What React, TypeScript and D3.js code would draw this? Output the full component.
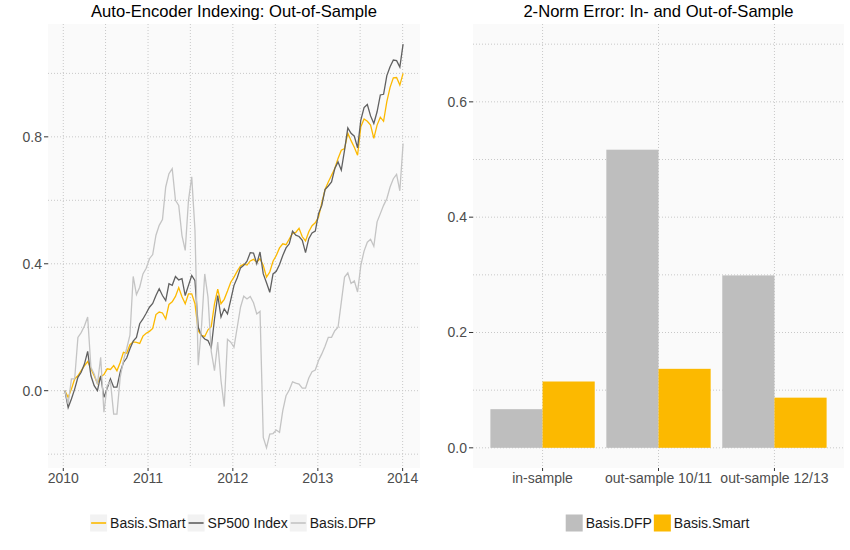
import * as d3 from 'd3'
import React from 'react'

// fortnightly index levels
const smart = [
    0.0, -0.021, 0.005, 0.037, 0.047, 0.063, 0.078, 0.092, 0.069, 0.047,
    0.023, 0.044, 0.051, 0.069, 0.067, 0.079, 0.063, 0.089, 0.121, 0.118,
    0.145, 0.154, 0.152, 0.149, 0.172, 0.181, 0.187, 0.196, 0.24, 0.248,
    0.245, 0.226, 0.272, 0.28, 0.297, 0.325, 0.296, 0.274, 0.305, 0.305,
    0.274, 0.189, 0.174, 0.171, 0.192, 0.202, 0.274, 0.32, 0.274, 0.288,
    0.314, 0.342, 0.358, 0.377, 0.393, 0.399, 0.396, 0.409, 0.414, 0.405,
    0.416, 0.395, 0.358, 0.374, 0.408, 0.426, 0.45, 0.463, 0.46, 0.478,
    0.496, 0.499, 0.512, 0.485, 0.472, 0.501, 0.52, 0.529, 0.547, 0.592,
    0.634, 0.658, 0.679, 0.7, 0.732, 0.758, 0.763, 0.812, 0.788, 0.767,
    0.742, 0.832, 0.856, 0.849, 0.837, 0.795, 0.837, 0.862, 0.849, 0.911,
    0.956, 0.986, 0.987, 0.963, 1.0,
]
const sp500 = [
    0.0, -0.053, -0.026, 0.005, 0.042, 0.058, 0.084, 0.124, 0.047, 0.016,
    0.0, 0.047, -0.021, 0.008, 0.037, 0.011, 0.011, 0.058, 0.089, 0.103,
    0.132, 0.156, 0.168, 0.211, 0.226, 0.244, 0.263, 0.275, 0.3, 0.321,
    0.3, 0.284, 0.337, 0.332, 0.36, 0.349, 0.353, 0.3, 0.332, 0.363,
    0.347, 0.2, 0.174, 0.163, 0.158, 0.135, 0.226, 0.3, 0.232, 0.258,
    0.242, 0.286, 0.332, 0.356, 0.387, 0.395, 0.408, 0.435, 0.434, 0.4,
    0.437, 0.368, 0.34, 0.31, 0.368, 0.376, 0.398, 0.426, 0.45, 0.463,
    0.503, 0.49, 0.486, 0.474, 0.435, 0.479, 0.497, 0.503, 0.558, 0.584,
    0.634, 0.645, 0.658, 0.7, 0.721, 0.695, 0.758, 0.828, 0.811, 0.802,
    0.765, 0.853, 0.892, 0.902, 0.866, 0.842, 0.879, 0.932, 0.934, 0.993,
    1.021, 1.042, 1.04, 1.02, 1.092,
]
const dfp = [
    0.0, -0.042, 0.037, 0.037, 0.168, 0.183, 0.204, 0.232, 0.074, 0.053,
    0.021, 0.105, -0.068, 0.016, 0.029, -0.074, -0.074, 0.042, 0.095, 0.133,
    0.175, 0.36, 0.303, 0.326, 0.368, 0.386, 0.416, 0.429, 0.49, 0.521,
    0.539, 0.642, 0.684, 0.7, 0.6, 0.584, 0.489, 0.442, 0.6, 0.674,
    0.505, 0.08, 0.2, 0.368, 0.295, 0.124, 0.063, 0.153, 0.032, -0.05,
    0.162, 0.153, 0.137, 0.2, 0.263, 0.298, 0.289, 0.297, 0.277, 0.242,
    0.25, -0.147, -0.18, -0.137, -0.135, -0.124, -0.131, -0.063, -0.016, 0.002,
    0.028, 0.024, 0.021, 0.008, 0.008, 0.04, 0.06, 0.065, 0.095, 0.116,
    0.14, 0.168, 0.168, 0.189, 0.2, 0.279, 0.358, 0.371, 0.338, 0.346,
    0.311, 0.395, 0.44, 0.468, 0.477, 0.455, 0.532, 0.558, 0.584, 0.605,
    0.642, 0.668, 0.682, 0.63, 0.779,
]
const startDate = new Date(2010, 0, 8)
const dates = smart.map((_, i) => d3.timeDay.offset(startDate, 14 * i))

const errCategories = ['in-sample', 'out-sample 10/11', 'out-sample 12/13']
const errDFP = [0.067, 0.517, 0.299]
const errSmart = [0.115, 0.137, 0.087]

const YELLOW = '#FCB900'
const DARK = '#606060'
const LIGHT = '#C4C4C4'
const BAR_GREY = '#BEBEBE'
const GRID = '#C8C8C8'
const TICK_TEXT = '#4D4D4D'
const FONT = '"Liberation Sans", Arial, Helvetica, sans-serif'

const lineSeries = [
    { name: 'Basis.Smart', values: smart, color: YELLOW },
    { name: 'SP500 Index', values: sp500, color: DARK },
    { name: 'Basis.DFP', values: dfp, color: LIGHT },
]

const top = 24
const bottom = 468
const left1 = 48
const right1 = 420
const left2 = 473
const right2 = 844

function expand(lo: number, hi: number, f = 0.05): [number, number] {
    const d = (hi - lo) * f
    return [lo - d, hi + d]
}

let measureCtx: CanvasRenderingContext2D | null = null
function textWidth(s: string, size: number) {
    if (!measureCtx) measureCtx = document.createElement('canvas').getContext('2d')
    if (!measureCtx) return s.length * size * 0.55
    measureCtx.font = `${size}px ${FONT}`
    return measureCtx.measureText(s).width
}

const Legend = (props: { cx: number; y: number; items: { name: string; color: string }[]; kind: 'line' | 'box' }) => {
    const key = 17
    const size = 14
    const widths = props.items.map((d) => key + 3 + textWidth(d.name, size) + 2)
    const total = d3.sum(widths)
    let x = props.cx - total / 2
    return (
        <g>
            {props.items.map((d, i) => {
                const x0 = x
                x += widths[i]
                return (
                    <g key={d.name} transform={`translate(${x0},${props.y})`}>
                        {props.kind === 'line' ? (
                            <>
                                <rect width={key} height={key} y={-key / 2} fill="#F2F2F2" />
                                <line x1={1} x2={key - 1} y1={0} y2={0} stroke={d.color} strokeWidth={1.6} />
                            </>
                        ) : (
                            <rect width={key} height={key} y={-key / 2} fill={d.color} />
                        )}
                        <text x={key + 3} y={5} fontSize={size} fill="#1A1A1A">
                            {d.name}
                        </text>
                    </g>
                )
            })}
        </g>
    )
}

const LinePanel = () => {
    const x = d3
        .scaleTime()
        .domain(expand(+dates[0], +dates[dates.length - 1]).map((t) => new Date(t)))
        .range([left1, right1])
    const all = [...smart, ...sp500, ...dfp]
    const y = d3
        .scaleLinear()
        .domain(expand(d3.min(all)!, d3.max(all)!))
        .range([bottom, top])
    const years = [2010, 2011, 2012, 2013, 2014].map((yr) => new Date(yr, 0, 1))
    const midYears = [2010, 2011, 2012, 2013].map((yr) => new Date(yr, 6, 2))
    const yMajor = [0, 0.4, 0.8]
    const yMinor = [-0.2, 0.2, 0.6, 1.0]
    const line = d3
        .line<number>()
        .x((_, i) => x(dates[i]))
        .y((v) => y(v))

    return (
        <g>
            <rect x={left1} y={top} width={right1 - left1} height={bottom - top} fill="#FAFAFA" />
            {[...yMinor, ...yMajor].map((v) => (
                <line key={`h${v}`} x1={left1} x2={right1} y1={y(v)} y2={y(v)} stroke={GRID} strokeDasharray="1,2" />
            ))}
            {[...midYears, ...years].map((d) => (
                <line key={`v${+d}`} x1={x(d)} x2={x(d)} y1={top} y2={bottom} stroke={GRID} strokeDasharray="1,2" />
            ))}
            {lineSeries.map((s) => (
                <path key={s.name} d={line(s.values)!} fill="none" stroke={s.color} strokeWidth={1.3} />
            ))}
            {yMajor.map((v) => (
                <g key={`yt${v}`}>
                    <line x1={left1 - 4} x2={left1} y1={y(v)} y2={y(v)} stroke="#333" />
                    <text x={left1 - 6} y={y(v) + 5} textAnchor="end" fontSize={14} fill={TICK_TEXT}>
                        {v.toFixed(1)}
                    </text>
                </g>
            ))}
            {years.map((d) => (
                <g key={`xt${+d}`}>
                    <line x1={x(d)} x2={x(d)} y1={bottom} y2={bottom + 3} stroke="#333" />
                    <text x={x(d)} y={bottom + 15} textAnchor="middle" fontSize={14} fill={TICK_TEXT}>
                        {d.getFullYear()}
                    </text>
                </g>
            ))}
            <text x={(left1 + right1) / 2} y={17} textAnchor="middle" fontSize={16.6} fill="#000">
                Auto-Encoder Indexing: Out-of-Sample
            </text>
            <Legend cx={(left1 + right1) / 2} y={523} items={lineSeries} kind="line" />
        </g>
    )
}

const BarPanel = () => {
    const x = d3.scalePoint<string>().domain(errCategories).range([left2, right2]).padding(0.6)
    const y = d3.scaleLinear().domain(expand(0, 0.7)).range([bottom, top])
    const bw = x.step() * 0.45
    const yMajor = [0, 0.2, 0.4, 0.6]
    const yMinor = [0.1, 0.3, 0.5, 0.7]
    const groups = [
        { name: 'Basis.DFP', values: errDFP, color: BAR_GREY, offset: -1 },
        { name: 'Basis.Smart', values: errSmart, color: YELLOW, offset: 0 },
    ]
    return (
        <g>
            <rect x={left2} y={top} width={right2 - left2} height={bottom - top} fill="#FAFAFA" />
            {[...yMinor, ...yMajor].map((v) => (
                <line key={`h${v}`} x1={left2} x2={right2} y1={y(v)} y2={y(v)} stroke={GRID} strokeDasharray="1,2" />
            ))}
            {errCategories.map((c) => (
                <line key={`v${c}`} x1={x(c)} x2={x(c)} y1={top} y2={bottom} stroke={GRID} strokeDasharray="1,2" />
            ))}
            {groups.map((g) =>
                g.values.map((v, i) => (
                    <rect
                        key={`${g.name}${i}`}
                        x={x(errCategories[i])! + g.offset * bw}
                        width={bw}
                        y={y(v)}
                        height={y(0) - y(v)}
                        fill={g.color}
                    />
                )),
            )}
            {yMajor.map((v) => (
                <g key={`yt${v}`}>
                    <line x1={left2 - 4} x2={left2} y1={y(v)} y2={y(v)} stroke="#333" />
                    <text x={left2 - 6} y={y(v) + 5} textAnchor="end" fontSize={14} fill={TICK_TEXT}>
                        {v.toFixed(1)}
                    </text>
                </g>
            ))}
            {errCategories.map((c) => (
                <g key={`xt${c}`}>
                    <line x1={x(c)} x2={x(c)} y1={bottom} y2={bottom + 3} stroke="#333" />
                    <text x={x(c)} y={bottom + 15} textAnchor="middle" fontSize={14} fill={TICK_TEXT}>
                        {c}
                    </text>
                </g>
            ))}
            <text x={(left2 + right2) / 2} y={17} textAnchor="middle" fontSize={16.6} fill="#000">
                2-Norm Error: In- and Out-of-Sample
            </text>
            <Legend cx={(left2 + right2) / 2} y={523} items={groups} kind="box" />
        </g>
    )
}

const App = (): JSX.Element => (
    <svg
        width={850}
        height={550}
        style={{ position: 'absolute', left: 0, top: 0, background: '#fff', fontFamily: FONT }}
    >
        <rect width={850} height={550} fill="#fff" />
        <LinePanel />
        <BarPanel />
    </svg>
)

export default App
